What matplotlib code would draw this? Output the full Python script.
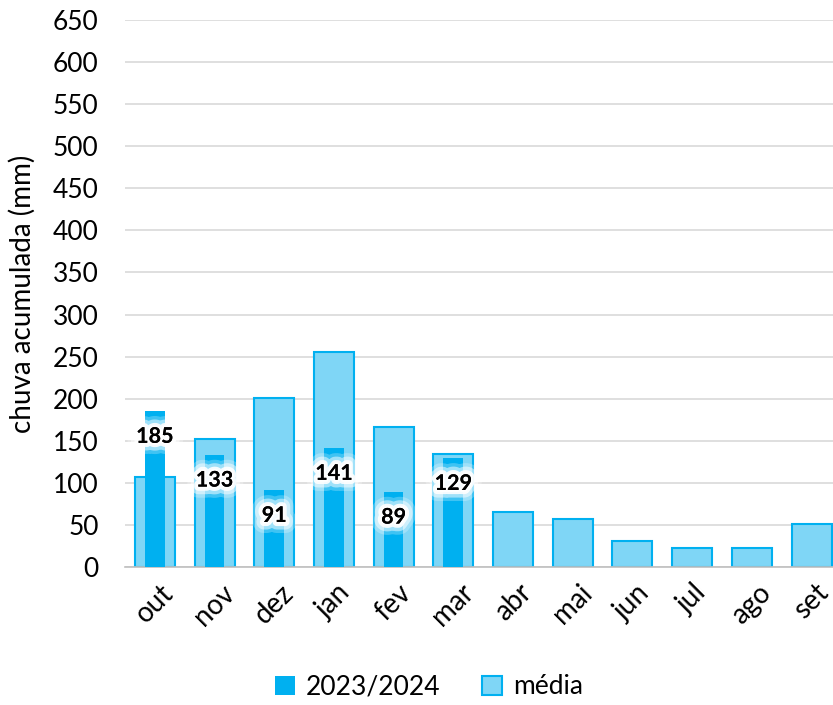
import numpy as np
import matplotlib
matplotlib.use("Agg")
import matplotlib.pyplot as plt
import matplotlib.patheffects as pe

plt.rcParams['font.family'] = ['Lato', 'DejaVu Sans']

meses = ['out', 'nov', 'dez', 'jan', 'fev', 'mar', 'abr', 'mai', 'jun', 'jul', 'ago', 'set']
media = [107, 152, 201, 256, 166, 134, 65, 57, 31, 22, 23, 51]
chuva_2324 = [185, 133, 91, 141, 89, 129]
y_ticks = list(range(0, 651, 50))

fig = plt.figure(figsize=(8.33, 7.05), dpi=100)
ax = fig.add_axes([125/833, 1 - 567/705, 1 - 125/833, 547/705])

x = np.arange(len(meses))
ax.bar(x, media, width=0.67, color='#7fd6f6', edgecolor='#00b0f0', linewidth=1.5,
       label='média', zorder=2)
x2 = np.arange(len(chuva_2324))
ax.bar(x2, chuva_2324, width=0.33, color='#00b0f0', label='2023/2024', zorder=3)

# rótulos com brilho branco
for xi, v in zip(x2, chuva_2324):
    ax.annotate(str(v), (xi, v), xytext=(0, -18), textcoords='offset points',
                ha='center', va='center', fontsize=15.5, fontweight='bold', color='black',
                zorder=5,
                path_effects=[pe.withStroke(linewidth=16, foreground=(1, 1, 1, 0.25)),
                              pe.withStroke(linewidth=11, foreground=(1, 1, 1, 0.5)),
                              pe.withStroke(linewidth=6, foreground=(1, 1, 1, 0.9)),
                              pe.withStroke(linewidth=3, foreground='white'),
                              pe.Normal()])

ax.set_xlim(-0.5, 11.36)
ax.set_ylim(0, 650)
ax.set_yticks(y_ticks)
ax.set_xticks(x)
ax.set_xticklabels(meses, rotation=45, fontsize=20)
ax.tick_params(axis='y', labelsize=19, length=0, pad=19)
ax.tick_params(axis='x', length=0, pad=9)
ax.grid(axis='y', color='#d9d9d9', linewidth=1.2, zorder=0)
ax.set_axisbelow(True)
for s in ['top', 'right', 'left']:
    ax.spines[s].set_visible(False)
ax.spines['bottom'].set_color('#bfbfbf')
ax.spines['bottom'].set_linewidth(1.2)
ax.set_ylabel('chuva acumulada (mm)', fontsize=20, labelpad=12)

handles, labels = ax.get_legend_handles_labels()
fig.legend(handles[::-1], labels[::-1], loc='center', bbox_to_anchor=(0.515, 1 - 687/705),
           ncol=2, frameon=False, fontsize=19, handlelength=0.75, handleheight=0.75,
           handletextpad=0.4, columnspacing=1.6)

fig.savefig('out.png', dpi=100)
